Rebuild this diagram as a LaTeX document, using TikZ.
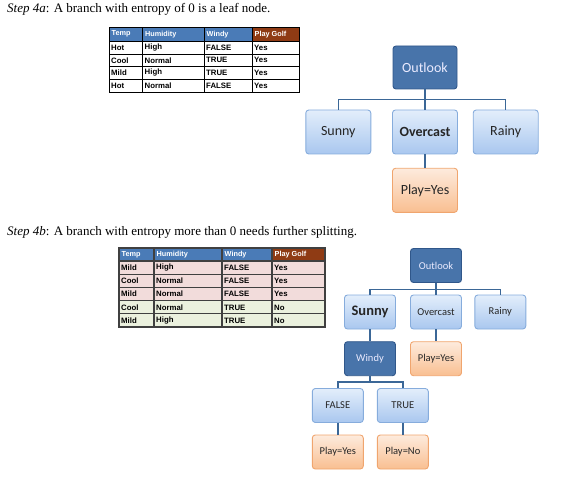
\documentclass[tikz,border=0pt]{standalone}
\usepackage{fontspec}
\setmainfont{Liberation Serif}
\newfontfamily\boxfont{Carlito}
\newfontfamily\tabfont{Liberation Sans}

\definecolor{hdblue}{HTML}{4A7BB7}
\definecolor{hdbrown}{HTML}{8F3B14}
\definecolor{rowpink}{HTML}{F2DCDB}
\definecolor{rowgreen}{HTML}{EBF1DE}
\definecolor{leaftop}{HTML}{E3EEFB}
\definecolor{leafbot}{HTML}{A9C7EF}
\definecolor{leafline}{HTML}{86ACDC}
\definecolor{darkfill}{HTML}{4874AA}
\definecolor{darkline}{HTML}{30578A}
\definecolor{playtop}{HTML}{FDEBDD}
\definecolor{playbot}{HTML}{F9BF91}
\definecolor{playline}{HTML}{F0A56E}
\definecolor{linkblue}{HTML}{3B6797}

\tikzset{
  title/.style={anchor=base west, inner sep=0pt, font=\fontsize{13}{15}\selectfont},
  grid/.style={draw=black, line width=0.8pt},
  gridB/.style={draw=black!75, line width=1.1pt},
  hdtext/.style={anchor=west, inner sep=0pt, text=white, font=\tabfont\bfseries\fontsize{7.3}{8}\selectfont},
  celltext/.style={anchor=west, inner sep=0pt, text=black, font=\tabfont\bfseries\fontsize{7.8}{8}\selectfont},
  treebox/.style={rounded corners=3pt, line width=0.9pt, inner sep=1pt, align=center},
  leafbox/.style={treebox, draw=leafline, top color=leaftop, bottom color=leafbot, text=black!85},
  darkbox/.style={treebox, draw=darkline, fill=darkfill, text=white!92!blue},
  playbox/.style={treebox, draw=playline, top color=playtop, bottom color=playbot, text=black!85},
  bigsize/.style={minimum width=64, minimum height=43, font=\boxfont\fontsize{14}{16}\selectfont},
  smallsize/.style={minimum width=51, minimum height=34, font=\boxfont\fontsize{10.5}{12}\selectfont},
  link/.style={draw=linkblue, line width=1.5pt}
}

\begin{document}
\begin{tikzpicture}[x=1pt,y=-1pt]
\useasboundingbox (0,0) rectangle (561,478);

% ---- step 4a ----
\node[title] (titleA) at (7,12.9) {\textit{Step 4a}: A branch with entropy of 0 is a leaf node.};

% table of the overcast branch
\fill[hdblue] (109,27.5) rectangle (252,41);
\fill[hdbrown] (252,27.5) rectangle (299.5,41);
\foreach \y in {41,54,66.7,79.3}
  \draw[grid] (109,\y) -- (299.5,\y);
\foreach \x in {142.5,204,252}
  \draw[grid] (\x,27.5) -- (\x,92);
\draw[grid] (109,27.5) rectangle (299.5,92);
\foreach \x/\t [count=\c] in {109/Temp,142.5/Humidity,204/Windy,252/Play Golf}
  \node[hdtext] (hdA-\c) at (\x+2.5,34.2) {\t};
\foreach \y/\a/\b/\w/\p [count=\r] in {47.5/Hot/High/FALSE/Yes,60.3/Cool/Normal/TRUE/Yes,73/Mild/High/TRUE/Yes,85.6/Hot/Normal/FALSE/Yes}{
  \node[celltext] (cA-\r-1) at (111,\y) {\a};
  \node[celltext] (cA-\r-2) at (144.5,\y) {\b};
  \node[celltext] (cA-\r-3) at (206,\y) {\w};
  \node[celltext] (cA-\r-4) at (254,\y) {\p};
}

% tree after the first split
\node[darkbox,bigsize] (outA) at (425,67.5) {Outlook};
\node[leafbox,bigsize,minimum width=65,minimum height=44] (sunA) at (338.3,132) {Sunny};
\node[leafbox,bigsize,minimum width=65,minimum height=44] (ovcA) at (425,132) {\bfseries Overcast};
\node[leafbox,bigsize,minimum width=65,minimum height=44] (rainA) at (505.7,132) {Rainy};
\node[playbox,bigsize,minimum width=65,minimum height=44] (playA) at (425,190.3) {Play=Yes};
\coordinate (barA) at (0,99.5);
\draw[link] (outA.south) -- (outA.south |- barA) -| (sunA.north);
\draw[link] (outA.south |- barA) -| (rainA.north);
\draw[link] (outA.south) -- (ovcA.north);
\draw[link] (ovcA.south) -- (playA.north);

% ---- step 4b ----
\node[title] (titleB) at (7,235.9) {\textit{Step 4b}: A branch with entropy more than 0 needs further splitting.};

% table of the sunny branch
\fill[hdblue] (119,248) rectangle (272,261);
\fill[hdbrown] (272,248) rectangle (325,261);
\fill[rowpink] (119,261) rectangle (325,300.6);
\fill[rowgreen] (119,300.6) rectangle (325,327);
\foreach \y in {261,274.2,287.4,300.6,313.8}
  \draw[gridB] (119,\y) -- (325,\y);
\foreach \x in {154,222,272}
  \draw[gridB] (\x,248) -- (\x,327);
\draw[gridB] (119,248) rectangle (325,327);
\foreach \x/\t [count=\c] in {119/Temp,154/Humidity,222/Windy,272/Play Golf}
  \node[hdtext] (hdB-\c) at (\x+2.5,254.3) {\t};
\foreach \y/\a/\b/\w/\p [count=\r] in {267.8/Mild/High/FALSE/Yes,281/Cool/Normal/FALSE/Yes,294.2/Mild/Normal/FALSE/Yes,307.4/Cool/Normal/TRUE/No,320.6/Mild/High/TRUE/No}{
  \node[celltext] (cB-\r-1) at (121,\y) {\a};
  \node[celltext] (cB-\r-2) at (156,\y) {\b};
  \node[celltext] (cB-\r-3) at (224,\y) {\w};
  \node[celltext] (cB-\r-4) at (274,\y) {\p};
}

% tree after splitting sunny on windy
\node[darkbox,smallsize] (outB) at (436,265.5) {Outlook};
\node[leafbox,smallsize,font=\boxfont\bfseries\fontsize{14.5}{16}\selectfont] (sunB) at (370,312) {Sunny};
\node[leafbox,smallsize] (ovcB) at (436,312) {Overcast};
\node[leafbox,smallsize] (rainB) at (500.3,312) {Rainy};
\node[darkbox,smallsize] (windB) at (370,358.7) {Windy};
\node[playbox,smallsize] (playB) at (436,358.7) {Play=Yes};
\node[leafbox,smallsize] (falseB) at (337.8,405.5) {FALSE};
\node[leafbox,smallsize] (trueB) at (402.8,405.5) {TRUE};
\node[playbox,smallsize] (yesB) at (337.8,452) {Play=Yes};
\node[playbox,smallsize] (noB) at (402.8,452) {Play=No};
\coordinate (barB) at (0,289.3);
\coordinate (barC) at (0,382);
\draw[link] (outB.south) -- (outB.south |- barB) -| (sunB.north);
\draw[link] (outB.south |- barB) -| (rainB.north);
\draw[link] (outB.south) -- (ovcB.north);
\draw[link] (ovcB.south) -- (playB.north);
\draw[link] (sunB.south) -- (windB.north);
\draw[link] (windB.south) -- (windB.south |- barC) -| (falseB.north);
\draw[link] (windB.south |- barC) -| (trueB.north);
\draw[link] (falseB.south) -- (yesB.north);
\draw[link] (trueB.south) -- (noB.north);
\end{tikzpicture}
\end{document}
